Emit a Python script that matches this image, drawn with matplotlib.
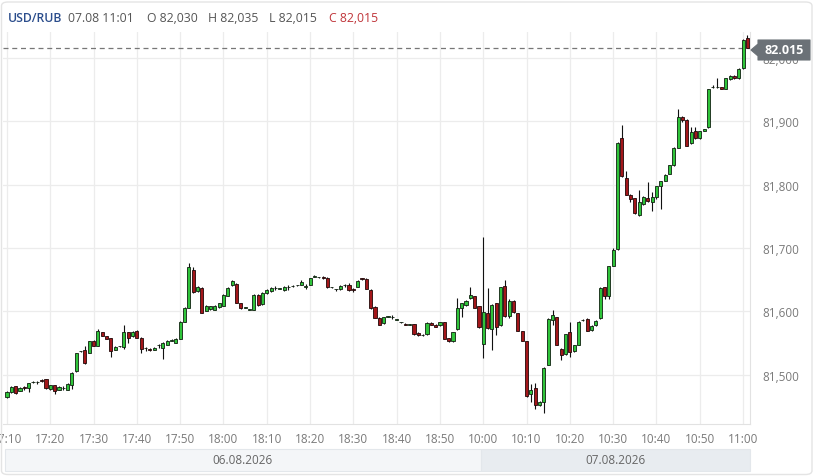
import numpy as np
import pandas as pd
import matplotlib
matplotlib.use("Agg")
import matplotlib.pyplot as plt
from matplotlib.patches import Rectangle, FancyBboxPatch, Polygon
from matplotlib.ticker import FuncFormatter
import matplotlib.transforms as mtransforms

plt.rcParams['font.family'] = ['Open Sans', 'DejaVu Sans']

# --- data: 1-minute USD/RUB candles, two sessions ---
s1_start = "2026-08-06 17:10"
s2_start = "2026-08-07 10:00"

s1_open = [81466, 81473, 81482, 81475, 81481, 81480, 81489, 81489, 81492, 81493,
           81478, 81484, 81477, 81479, 81477, 81484, 81506, 81537, 81540, 81535,
           81554, 81546, 81567, 81561, 81558, 81540, 81545, 81544, 81567, 81561,
           81570, 81559, 81542, 81541, 81540, 81547, 81542, 81548, 81554, 81551,
           81557, 81584, 81606, 81665, 81632, 81637, 81601, 81604, 81603, 81607,
           81609, 81625, 81641, 81644, 81613, 81606, 81603, 81603, 81626, 81612,
           81629, 81632, 81637, 81636, 81634, 81638, 81640, 81641, 81642, 81639,
           81642, 81655, 81654, 81655, 81653, 81638, 81635, 81635, 81641, 81642,
           81636, 81639, 81652, 81651, 81634, 81607, 81590, 81582, 81592, 81591,
           81587, 81583, 81581, 81579, 81580, 81566, 81563, 81564, 81582, 81579,
           81578, 81583, 81558, 81553, 81572, 81605, 81610, 81621, 81624, 81608]
s1_high = [81474, 81482, 81483, 81481, 81482, 81488, 81490, 81491, 81494, 81494,
           81485, 81485, 81482, 81482, 81487, 81504, 81535, 81538, 81545, 81554,
           81555, 81572, 81568, 81562, 81559, 81545, 81546, 81579, 81568, 81569,
           81571, 81560, 81544, 81543, 81544, 81549, 81552, 81555, 81556, 81558,
           81585, 81607, 81676, 81670, 81640, 81638, 81610, 81609, 81610, 81614,
           81627, 81638, 81649, 81645, 81614, 81607, 81604, 81627, 81627, 81630,
           81635, 81638, 81640, 81637, 81640, 81641, 81641, 81642, 81650, 81644,
           81653, 81657, 81655, 81656, 81654, 81639, 81636, 81641, 81643, 81645,
           81637, 81649, 81653, 81652, 81635, 81608, 81591, 81592, 81593, 81594,
           81588, 81584, 81582, 81580, 81581, 81567, 81564, 81583, 81583, 81580,
           81584, 81584, 81559, 81568, 81622, 81614, 81618, 81638, 81625, 81609]
s1_low = [81464, 81472, 81470, 81474, 81476, 81473, 81488, 81486, 81489, 81478,
          81476, 81470, 81476, 81477, 81476, 81478, 81505, 81536, 81518, 81534,
          81545, 81545, 81561, 81556, 81529, 81539, 81544, 81541, 81551, 81560,
          81558, 81535, 81538, 81537, 81539, 81543, 81525, 81547, 81553, 81550,
          81556, 81583, 81605, 81629, 81631, 81597, 81600, 81603, 81602, 81606,
          81608, 81624, 81640, 81613, 81604, 81605, 81602, 81602, 81609, 81611,
          81628, 81631, 81634, 81635, 81633, 81634, 81639, 81640, 81641, 81635,
          81641, 81654, 81653, 81651, 81637, 81637, 81632, 81634, 81639, 81633,
          81631, 81638, 81650, 81635, 81604, 81589, 81578, 81581, 81591, 81588,
          81586, 81582, 81578, 81578, 81563, 81562, 81562, 81563, 81578, 81575,
          81577, 81556, 81552, 81552, 81571, 81592, 81609, 81620, 81605, 81574]
s1_close = [81473, 81481, 81472, 81480, 81479, 81487, 81489, 81489, 81490, 81479,
            81484, 81475, 81481, 81479, 81486, 81503, 81534, 81537, 81519, 81553,
            81546, 81569, 81562, 81557, 81538, 81544, 81545, 81567, 81559, 81568,
            81559, 81541, 81542, 81540, 81543, 81548, 81551, 81554, 81554, 81557,
            81584, 81606, 81670, 81630, 81639, 81598, 81609, 81608, 81609, 81613,
            81626, 81637, 81648, 81614, 81605, 81606, 81603, 81626, 81610, 81629,
            81634, 81637, 81637, 81636, 81639, 81638, 81640, 81641, 81646, 81639,
            81652, 81655, 81654, 81652, 81638, 81638, 81635, 81640, 81641, 81634,
            81634, 81648, 81651, 81636, 81605, 81590, 81579, 81591, 81592, 81591,
            81587, 81583, 81579, 81579, 81564, 81563, 81563, 81582, 81579, 81576,
            81583, 81557, 81553, 81567, 81605, 81613, 81617, 81626, 81606, 81575]

s2_open = [81549, 81598, 81572, 81613, 81578, 81640, 81593, 81617, 81597, 81569,
           81553, 81470, 81479, 81452, 81458, 81516, 81586, 81591, 81541, 81533,
           81567, 81537, 81548, 81586, 81588, 81571, 81578, 81589, 81638, 81625,
           81672, 81698, 81873, 81811, 81784, 81778, 81752, 81769, 81779, 81773,
           81781, 81798, 81806, 81817, 81830, 81858, 81907, 81902, 81865, 81884,
           81873, 81885, 81890, 81953, 81953, 81953, 81951, 81966, 81971, 81967,
           81983, 82030]
s2_high = [81718, 81637, 81612, 81614, 81639, 81650, 81620, 81618, 81598, 81570,
           81554, 81486, 81487, 81459, 81512, 81589, 81602, 81592, 81542, 81565,
           81583, 81548, 81585, 81588, 81589, 81578, 81586, 81638, 81639, 81672,
           81700, 81867, 81893, 81821, 81785, 81779, 81792, 81782, 81804, 81788,
           81798, 81806, 81816, 81831, 81859, 81919, 81908, 81903, 81891, 81890,
           81885, 81887, 81951, 81957, 81967, 81954, 81968, 81972, 81972, 81983,
           82029, 82035]
s2_low = [81526, 81573, 81539, 81563, 81577, 81592, 81590, 81598, 81569, 81553,
          81466, 81457, 81446, 81451, 81440, 81515, 81579, 81547, 81524, 81532,
          81529, 81536, 81547, 81585, 81569, 81570, 81577, 81588, 81620, 81620,
          81671, 81697, 81812, 81783, 81772, 81754, 81750, 81768, 81773, 81759,
          81777, 81762, 81805, 81816, 81829, 81857, 81899, 81860, 81864, 81872,
          81872, 81884, 81889, 81952, 81952, 81950, 81950, 81965, 81966, 81966,
          81982, 82015]
s2_close = [81599, 81574, 81611, 81575, 81638, 81593, 81617, 81599, 81570, 81554,
            81467, 81476, 81453, 81458, 81511, 81588, 81594, 81548, 81532, 81564,
            81536, 81547, 81584, 81586, 81570, 81577, 81585, 81637, 81625, 81671,
            81697, 81866, 81813, 81784, 81777, 81755, 81772, 81781, 81774, 81780,
            81797, 81805, 81815, 81830, 81858, 81907, 81902, 81861, 81883, 81873,
            81884, 81887, 81950, 81953, 81953, 81951, 81967, 81971, 81967, 81982,
            82028, 82015]

y_ticks = [81500, 81600, 81700, 81800, 81900, 82000]
last_price = 82015
header_parts = [("USD/RUB", "#2b4d8c"), ("07.08 11:01", "#555555"), ("O 82,030", "#555555"),
                ("H 82,035", "#555555"), ("L 82,015", "#555555"), ("C 82,015", "#c0353a")]
header_x = [8, 68, 147, 208, 269, 329]

# --- assemble ---
times = list(pd.date_range(s1_start, periods=len(s1_open), freq="min")) + \
        list(pd.date_range(s2_start, periods=len(s2_open), freq="min"))
opens = np.array(s1_open + s2_open)
highs = np.array(s1_high + s2_high)
lows = np.array(s1_low + s2_low)
closes = np.array(s1_close + s2_close)
idx = np.arange(len(opens))
n1 = len(s1_open)

W, H = 825, 477
fig = plt.figure(figsize=(W / 100, H / 100), dpi=100)
fig.patch.set_facecolor("white")

def fx(px):
    return px / W

def fy(py):
    return 1 - py / H

ax = fig.add_axes([fx(3), fy(425), fx(750) - fx(3), fy(33) - fy(425)])
ax.set_xlim(-0.92, 171.6)
ax.set_ylim(81422.8, 82040.2)

# grid
tick_pos = [i for i, t in enumerate(times) if t.minute % 10 == 0]
tick_lab = [times[i].strftime("%H:%M") for i in tick_pos]
for p in tick_pos:
    ax.axvline(p, color="#ececec", lw=0.9, zorder=0)
for v in y_ticks:
    ax.axhline(v, color="#ececec", lw=0.9, zorder=0)

# candles
up = closes >= opens
green, red = "#2fc43a", "#a3161a"
ax.vlines(idx, lows, highs, color="#111111", lw=0.8, zorder=2)
body_bottom = np.minimum(opens, closes)
body_h = np.maximum(np.abs(closes - opens), 0.6)
ax.bar(idx[up], body_h[up], bottom=body_bottom[up], width=0.72, color=green,
       edgecolor="#102010", linewidth=0.6, zorder=3)
ax.bar(idx[~up], body_h[~up], bottom=body_bottom[~up], width=0.72, color=red,
       edgecolor="#200808", linewidth=0.6, zorder=3)

# last price dashed line
ax.axhline(last_price, color="#777777", lw=0.9, ls=(0, (4, 3)), zorder=1)

# axes styling
for s in ["top", "left"]:
    ax.spines[s].set_visible(False)
ax.spines["bottom"].set_color("#e2e2e2")
ax.spines["right"].set_color("#e2e2e2")
ax.yaxis.tick_right()
ax.set_yticks(y_ticks)
ax.yaxis.set_major_formatter(FuncFormatter(lambda v, p: f"{int(v):,}"))
ax.set_xticks(tick_pos)
ax.set_xticklabels(tick_lab)
ax.tick_params(axis="both", length=0, labelsize=8.5, labelcolor="#7a7a7a")
ax.tick_params(axis="x", pad=6)
ax.tick_params(axis="y", pad=9)

# date bands under the axis
blend = mtransforms.blended_transform_factory(ax.transData, fig.transFigure)
x0, x1 = ax.get_xlim()
split = n1 - 0.5
band_y, band_h = fy(472), fy(450) - fy(472)
fig.add_artist(Rectangle((x0 + 0.5, band_y), split - x0 - 0.5, band_h, transform=blend,
                         facecolor="#f4f6f8", edgecolor="#e3e7eb", lw=0.8))
fig.add_artist(Rectangle((split, band_y), x1 - split, band_h, transform=blend,
                         facecolor="#e8ecf0", edgecolor="#e3e7eb", lw=0.8))
fig.text(blend.transform(((x0 + split) / 2, 0))[0] / fig.bbox.width, fy(461),
         times[0].strftime("%d.%m.%Y"), ha="center", va="center", fontsize=8.5, color="#666666")
fig.text(blend.transform(((split + x1) / 2, 0))[0] / fig.bbox.width, fy(461),
         times[-1].strftime("%d.%m.%Y"), ha="center", va="center", fontsize=8.5, color="#666666")

# card border
fig.add_artist(FancyBboxPatch((fx(1.5), fy(475.5)), fx(812) - fx(1.5), fy(3) - fy(475.5),
                              boxstyle="round,pad=0,rounding_size=0.008", transform=fig.transFigure,
                              facecolor="none", edgecolor="#e4e4e4", lw=1))

# header
for (txt, col), xp in zip(header_parts, header_x):
    fig.text(fx(xp), fy(18), txt, color=col, fontsize=8.8, va="center", ha="left",
             fontweight="semibold" if txt == "USD/RUB" else "normal")

# last price tag
ty = ax.transData.transform((0, last_price))[1]
tpy = H - ty + 2
tag = Polygon([(fx(751), fy(tpy)), (fx(758), fy(tpy - 6)), (fx(758), fy(tpy - 10)),
               (fx(810), fy(tpy - 10)), (fx(810), fy(tpy + 10)), (fx(758), fy(tpy + 10)),
               (fx(758), fy(tpy + 6))], closed=True, transform=fig.transFigure,
              facecolor="#6b7177", edgecolor="#6b7177", lw=0.8, joinstyle="round", zorder=5)
fig.add_artist(tag)
fig.text(fx(784), fy(tpy), f"{last_price / 1000:.3f}", color="white", fontsize=9,
         fontweight="bold", ha="center", va="center", zorder=6)

fig.savefig("out.png", dpi=100)
